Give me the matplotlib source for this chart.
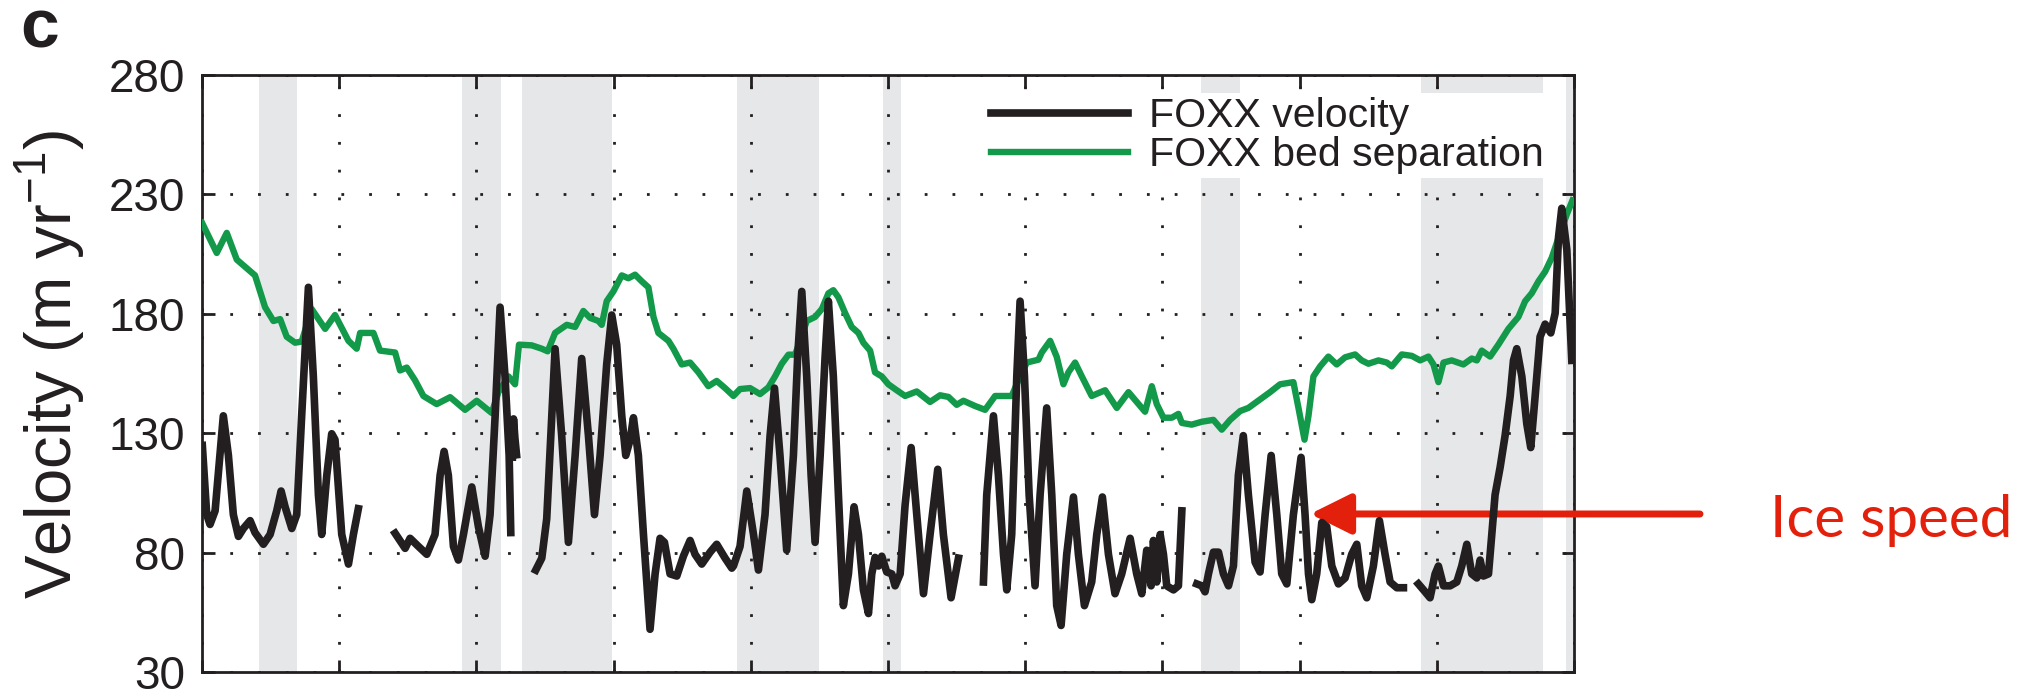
import matplotlib
matplotlib.use("Agg")
import matplotlib.pyplot as plt

plt.rcParams['font.family'] = ['Liberation Sans', 'DejaVu Sans']
plt.rcParams['mathtext.fontset'] = 'custom'
plt.rcParams['mathtext.rm'] = 'Liberation Sans'

# x runs 0..10 (unlabelled ticks), y in m/yr
bed_separation = [
    (0.000, 218.1), (0.107, 205.5), (0.180, 213.9), (0.253, 202.7), (0.338, 198.5), (0.386, 196.1),
    (0.459, 182.8), (0.520, 177.0), (0.569, 177.8), (0.617, 170.4), (0.678, 167.9), (0.726, 168.4),
    (0.799, 182.0), (0.897, 173.7), (0.969, 179.5), (1.067, 168.7), (1.127, 165.4), (1.152, 172.0),
    (1.249, 172.0), (1.297, 164.6), (1.407, 163.8), (1.443, 156.3), (1.492, 157.5), (1.552, 152.2),
    (1.613, 145.6), (1.710, 142.2), (1.808, 145.1), (1.917, 139.8), (2.002, 143.6), (2.111, 138.5),
    (2.160, 147.2), (2.233, 153.8), (2.281, 150.5), (2.310, 167.1), (2.403, 166.8), (2.476, 165.4),
    (2.519, 164.3), (2.573, 172.0), (2.658, 175.4), (2.719, 174.5), (2.779, 181.2), (2.828, 178.3),
    (2.889, 177.0), (2.913, 175.4), (2.949, 185.3), (2.998, 189.4), (3.059, 196.1), (3.107, 194.9),
    (3.156, 196.4), (3.205, 193.6), (3.253, 191.1), (3.290, 178.7), (3.326, 172.0), (3.399, 168.7),
    (3.435, 165.4), (3.496, 158.8), (3.557, 159.6), (3.618, 155.5), (3.690, 149.7), (3.751, 151.9),
    (3.812, 148.9), (3.873, 145.6), (3.921, 148.5), (3.994, 148.9), (4.067, 146.4), (4.128, 149.2),
    (4.176, 153.8), (4.225, 159.1), (4.274, 162.9), (4.322, 162.9), (4.359, 168.7), (4.407, 177.0),
    (4.468, 178.7), (4.517, 182.0), (4.565, 188.6), (4.601, 189.9), (4.638, 186.9), (4.687, 180.3),
    (4.735, 174.5), (4.784, 172.0), (4.820, 167.9), (4.869, 164.6), (4.905, 155.5), (4.954, 153.8),
    (5.002, 150.5), (5.063, 148.0), (5.124, 145.6), (5.209, 147.5), (5.306, 143.1), (5.379, 145.9),
    (5.440, 145.2), (5.500, 141.9), (5.549, 143.6), (5.634, 141.4), (5.707, 139.8), (5.780, 145.6),
    (5.901, 145.6), (5.950, 152.2), (6.011, 159.6), (6.096, 160.8), (6.120, 163.8), (6.181, 168.7),
    (6.229, 162.0), (6.278, 150.5), (6.314, 155.5), (6.363, 159.6), (6.412, 153.8), (6.484, 145.6),
    (6.582, 148.0), (6.667, 140.6), (6.752, 147.2), (6.812, 143.1), (6.873, 139.0), (6.922, 149.7),
    (6.958, 142.2), (7.007, 136.5), (7.068, 136.5), (7.116, 138.1), (7.141, 134.3), (7.213, 133.6),
    (7.286, 134.8), (7.371, 135.6), (7.432, 131.5), (7.493, 135.6), (7.566, 139.3), (7.626, 140.6),
    (7.724, 144.7), (7.784, 147.2), (7.857, 150.5), (7.954, 151.4), (7.991, 140.6), (8.035, 127.3),
    (8.064, 137.3), (8.100, 153.8), (8.149, 158.0), (8.209, 162.1), (8.270, 158.8), (8.331, 161.8),
    (8.404, 163.0), (8.452, 160.5), (8.501, 159.1), (8.574, 160.5), (8.635, 159.6), (8.671, 158.0),
    (8.744, 163.0), (8.817, 162.4), (8.878, 160.5), (8.938, 162.1), (8.975, 158.8), (9.011, 151.4),
    (9.048, 159.6), (9.108, 160.5), (9.193, 158.8), (9.254, 161.3), (9.291, 160.5), (9.327, 164.6),
    (9.388, 162.1), (9.448, 167.1), (9.521, 173.7), (9.594, 178.7), (9.643, 185.3), (9.691, 188.6),
    (9.740, 193.6), (9.789, 197.7), (9.837, 203.5), (9.886, 211.8), (9.947, 221.7), (9.988, 227.5),
]

# velocity record has gaps, so it comes in pieces
vel_seg1 = [
    (0.002, 124.9), (0.034, 95.9), (0.058, 91.8), (0.095, 97.5), (0.155, 137.3), (0.192, 120.7),
    (0.228, 95.9), (0.265, 86.8), (0.301, 90.1), (0.350, 93.4), (0.386, 88.4), (0.447, 83.5),
    (0.496, 87.6), (0.544, 97.5), (0.576, 105.8), (0.605, 99.2), (0.654, 90.1), (0.690, 95.9),
    (0.726, 137.3), (0.775, 191.1), (0.811, 153.8), (0.848, 104.2), (0.872, 87.6), (0.909, 112.4),
    (0.945, 129.8), (0.969, 127.3), (1.018, 87.6), (1.067, 75.2), (1.103, 87.6), (1.139, 98.4),
]
vel_seg2 = [
    (1.407, 88.1), (1.480, 81.8), (1.516, 86.0), (1.577, 82.6), (1.638, 79.3), (1.698, 87.6),
    (1.735, 112.4), (1.764, 122.4), (1.795, 112.4), (1.832, 82.6), (1.868, 76.9), (1.905, 87.6),
    (1.966, 107.5), (2.014, 90.9), (2.063, 78.5), (2.099, 95.9), (2.136, 137.3), (2.172, 182.8),
    (2.208, 153.8), (2.238, 120.7), (2.250, 88.4),
]
vel_stub = [(2.262, 120.0), (2.270, 136.0), (2.280, 128.0), (2.292, 121.0)]
vel_seg3 = [
    (2.432, 72.7), (2.476, 77.7), (2.512, 94.2), (2.549, 137.3), (2.573, 165.4), (2.621, 129.0),
    (2.670, 84.3), (2.719, 120.7), (2.767, 161.3), (2.816, 129.0), (2.860, 95.9), (2.901, 120.7),
    (2.949, 158.8), (2.986, 179.5), (3.022, 167.1), (3.059, 137.3), (3.088, 120.7), (3.120, 127.3),
    (3.144, 136.5), (3.180, 120.7), (3.217, 87.6), (3.265, 47.9), (3.302, 71.1), (3.338, 86.0),
    (3.370, 84.3), (3.411, 71.1), (3.460, 70.2), (3.508, 78.5), (3.557, 85.1), (3.593, 79.3),
    (3.642, 75.2), (3.703, 80.2), (3.751, 83.5), (3.812, 77.7), (3.861, 73.5), (3.873, 74.4),
    (3.921, 82.6), (3.970, 105.8), (4.019, 87.6), (4.055, 72.7), (4.103, 95.9), (4.140, 129.0),
    (4.172, 148.9), (4.212, 120.7), (4.261, 81.0), (4.310, 120.7), (4.341, 162.1), (4.371, 189.4),
    (4.407, 153.8), (4.439, 112.4), (4.468, 84.3), (4.505, 120.7), (4.541, 162.1), (4.565, 185.3),
    (4.601, 153.8), (4.638, 104.2), (4.674, 57.8), (4.711, 71.1), (4.752, 99.2), (4.784, 87.6),
    (4.820, 64.4), (4.857, 54.5), (4.881, 71.1), (4.905, 78.0), (4.930, 74.4), (4.954, 78.5),
    (4.990, 71.9), (5.027, 71.1), (5.051, 66.1), (5.088, 71.1), (5.124, 100.0), (5.168, 124.0),
    (5.209, 95.9), (5.258, 62.8), (5.306, 87.6), (5.362, 114.9), (5.403, 87.6), (5.459, 61.1),
    (5.513, 77.7),
]
vel_seg4 = [
    (5.695, 67.7), (5.719, 104.2), (5.768, 137.3), (5.804, 112.4), (5.841, 79.3), (5.865, 64.4),
    (5.901, 87.6), (5.938, 153.8), (5.962, 185.3), (5.994, 153.8), (6.028, 104.2), (6.071, 66.1),
    (6.108, 104.2), (6.156, 140.6), (6.193, 104.2), (6.229, 57.8), (6.261, 49.5), (6.302, 79.3),
    (6.351, 103.3), (6.387, 79.3), (6.431, 57.8), (6.484, 67.7), (6.521, 87.6), (6.562, 103.3),
    (6.606, 79.3), (6.654, 62.8), (6.703, 71.1), (6.764, 86.0), (6.812, 71.1), (6.849, 62.8),
    (6.885, 81.0), (6.917, 66.1), (6.934, 85.1), (6.958, 67.7), (6.983, 87.6), (7.007, 79.3),
    (7.031, 66.1), (7.080, 64.4), (7.116, 66.1), (7.141, 97.5),
]
vel_seg5 = [
    (7.250, 66.9), (7.286, 66.1), (7.310, 63.6), (7.335, 71.1), (7.371, 80.2), (7.408, 80.2),
    (7.444, 71.1), (7.481, 66.1), (7.517, 74.4), (7.553, 112.4), (7.589, 129.0), (7.626, 104.2),
    (7.675, 76.0), (7.711, 71.9), (7.748, 95.9), (7.792, 120.7), (7.833, 95.9), (7.869, 71.1),
    (7.906, 66.9), (7.954, 95.9), (8.010, 119.9), (8.039, 95.9), (8.064, 71.1), (8.088, 60.3),
    (8.124, 71.1), (8.161, 92.6), (8.197, 90.9), (8.234, 74.4), (8.282, 66.9), (8.331, 69.4),
    (8.379, 79.3), (8.416, 83.5), (8.452, 66.1), (8.489, 61.1), (8.537, 74.4), (8.581, 93.4),
    (8.622, 79.3), (8.659, 67.7), (8.708, 65.3), (8.756, 65.3),
]
vel_seg6 = [
    (8.865, 66.9), (8.914, 63.6), (8.950, 61.1), (8.987, 71.1), (9.011, 74.4), (9.048, 66.1),
    (9.096, 66.1), (9.145, 67.7), (9.181, 74.4), (9.218, 83.5), (9.254, 71.1), (9.291, 69.4),
    (9.315, 76.9), (9.339, 70.2), (9.376, 71.1), (9.400, 87.6), (9.424, 104.2), (9.461, 115.8),
    (9.497, 129.0), (9.534, 145.6), (9.558, 160.5), (9.582, 165.4), (9.619, 153.8), (9.655, 134.0),
    (9.684, 124.0), (9.716, 145.6), (9.752, 170.4), (9.789, 175.7), (9.830, 172.0), (9.862, 180.3),
    (9.886, 211.8), (9.910, 224.2), (9.947, 206.8), (9.983, 160.5),
]
velocity_segments = [vel_seg1, vel_seg2, vel_stub, vel_seg3, vel_seg4, vel_seg5, vel_seg6]

shade_spans = [(0.418, 0.691), (1.897, 2.179), (2.335, 2.991), (3.897, 4.500),
               (4.961, 5.095), (7.281, 7.566), (8.885, 9.772), (9.94, 9.99)]

y_ticks = [30, 80, 130, 180, 230, 280]
arrow_tip = (8.076, 96.2)

dark = '#231f20'
green = '#12994a'
red = '#e3200b'

fig = plt.figure(figsize=(20.39, 6.98), dpi=100)
ax = fig.add_axes([0.0991, 0.0372, 0.6729, 0.8553])

for a, b in shade_spans:
    ax.axvspan(a, b, color='#e6e7e9', lw=0, zorder=1)

gx, gy = zip(*bed_separation)
hg, = ax.plot(gx, gy, color=green, lw=4.6, zorder=3, solid_joinstyle='round')
for seg in velocity_segments:
    sx, sy = zip(*seg)
    hv, = ax.plot(sx, sy, color=dark, lw=5.5, zorder=4, solid_joinstyle='round')

ax.set_xlim(0, 10)
ax.set_ylim(30, 280)
ax.set_xticks(range(11))
ax.set_xticklabels([])
ax.set_yticks(y_ticks)
ax.set_axisbelow('line')
ax.grid(True, color=dark, lw=2, linestyle=(0, (1, 9)))
ax.tick_params(direction='in', length=9, width=2, top=True, right=True,
               labelsize=33, pad=12, color=dark, labelcolor=dark)
for s in ax.spines.values():
    s.set_linewidth(2)
    s.set_color(dark)

ax.set_ylabel('Velocity (m yr$^{\\mathregular{-1}}$)', fontsize=47, color=dark)
ax.yaxis.set_label_coords(-0.0840, 0.516)

leg = ax.legend([hv, hg], ['FOXX velocity', 'FOXX bed separation'],
                loc='upper left', bbox_to_anchor=(0.572, 0.970), fontsize=29.5,
                frameon=True, fancybox=False, framealpha=1, edgecolor='none',
                facecolor='white', borderpad=0.1, borderaxespad=0,
                handlelength=3.35, handletextpad=0.5, labelspacing=0.03)
for t in leg.get_texts():
    t.set_color(dark)

ax.annotate('', xy=arrow_tip, xycoords='data',
            xytext=(1700 / 2039, 1 - 514 / 698), textcoords='figure fraction',
            arrowprops=dict(arrowstyle='-|>,head_length=1.25,head_width=0.62',
                            lw=5, color=red, shrinkA=0, shrinkB=0, mutation_scale=20),
            annotation_clip=False)
fig.text(1770 / 2039, 1 - 536.7 / 698, 'Ice speed', fontsize=42, family='Lato',
         color=red, va='baseline', ha='left')

fig.text(0.0098, 1 - 47 / 698, 'c', fontsize=50, fontweight='heavy', va='baseline', color=dark)

fig.savefig('out.png', dpi=100)
